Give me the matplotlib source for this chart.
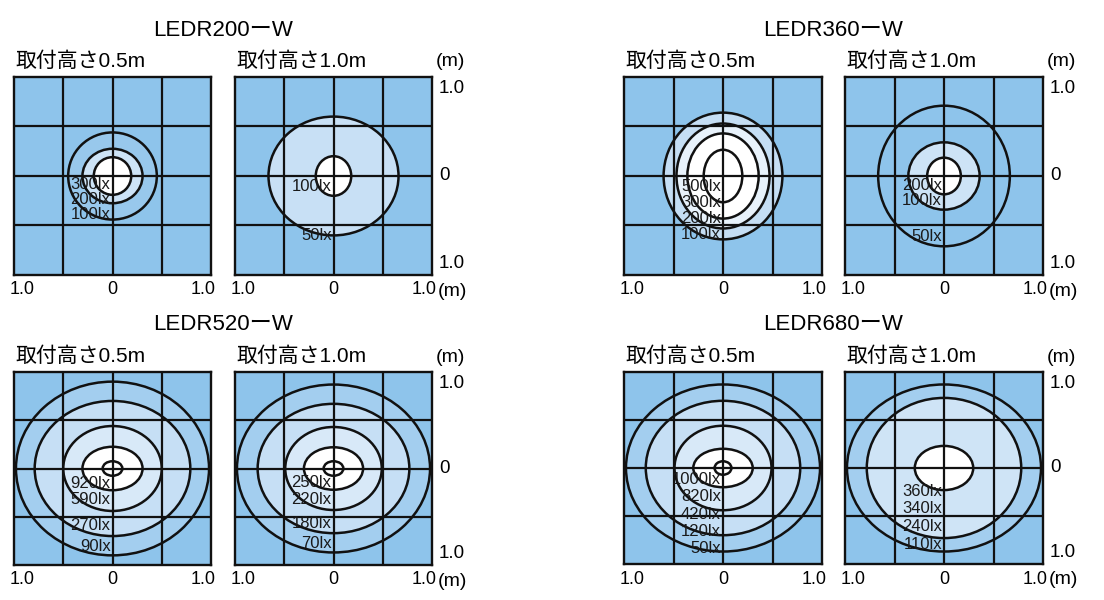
import matplotlib
matplotlib.use('Agg')
import matplotlib.pyplot as plt
from matplotlib.patches import Ellipse
import matplotlib.transforms as mtransforms

plt.rcParams['font.family'] = ['Liberation Sans', 'Noto Sans CJK JP', 'DejaVu Sans']

# ---------------- data ----------------
models = ['LEDR200ーW', 'LEDR360ーW', 'LEDR520ーW', 'LEDR680ーW']
mount_heights = ['取付高さ0.5m', '取付高さ1.0m']
x_tick_labels = ['1.0', '0', '1.0']
x_tick_values = [-1.0, 0.0, 1.0]
y_tick_labels = ['1.0', '0', '1.0']
y_tick_values = [1.0, 0.0, -1.0]
unit_label = '(m)'

# isolux contours: semi-axes (m), outermost -> innermost
led200_h05_rx = [0.45, 0.305, 0.19]
led200_h05_ry = [0.44, 0.275, 0.19]
led200_h05_lux = ['300lx', '200lx', '100lx']

led200_h10_rx = [0.66, 0.18]
led200_h10_ry = [0.60, 0.20]
led200_h10_lux = ['100lx', '50lx']

led360_h05_rx = [0.60, 0.47, 0.36, 0.195]
led360_h05_ry = [0.64, 0.53, 0.43, 0.265]
led360_h05_lux = ['500lx', '300lx', '200lx', '100lx']

led360_h10_rx = [0.665, 0.36, 0.17]
led360_h10_ry = [0.71, 0.34, 0.185]
led360_h10_lux = ['200lx', '100lx', '50lx']

led520_h05_rx = [0.98, 0.79, 0.50, 0.305, 0.10]
led520_h05_ry = [0.90, 0.70, 0.44, 0.225, 0.075]
led520_h05_lux = ['920lx', '590lx', '270lx', '90lx']

led520_h10_rx = [0.98, 0.77, 0.49, 0.30, 0.10]
led520_h10_ry = [0.87, 0.67, 0.43, 0.22, 0.075]
led520_h10_lux = ['250lx', '220lx', '180lx', '70lx']

led680_h05_rx = [0.98, 0.78, 0.49, 0.30, 0.085]
led680_h05_ry = [0.87, 0.70, 0.44, 0.20, 0.07]
led680_h05_lux = ['1000lx', '820lx', '420lx', '120lx', '50lx']

led680_h10_rx = [0.98, 0.78, 0.295]
led680_h10_ry = [0.87, 0.73, 0.23]
led680_h10_lux = ['360lx', '340lx', '240lx', '110lx']

# ---------------- layout / style ----------------
W, H = 1104, 600
BG = '#8ec4eb'
LINE = '#111111'

panels = [
    # model, height, rx, ry, labels, box(px), label y (m), fills
    (0, 0, led200_h05_rx, led200_h05_ry, led200_h05_lux, (14, 77, 211, 275),
     [-0.086, -0.24, -0.385], ['#98c8ec', '#cde3f6', 'white']),
    (0, 1, led200_h10_rx, led200_h10_ry, led200_h10_lux, (235, 77, 432, 275),
     [-0.107, -0.60], ['#c8e0f5', 'white']),
    (1, 0, led360_h05_rx, led360_h05_ry, led360_h05_lux, (624, 77, 822, 275),
     [-0.107, -0.27, -0.43, -0.59], ['#c5def4', '#e8f2fb', 'white', 'white']),
    (1, 1, led360_h10_rx, led360_h10_ry, led360_h10_lux, (845, 77, 1043, 275),
     [-0.10, -0.25, -0.61], [BG, '#cde3f6', 'white']),
    (2, 0, led520_h05_rx, led520_h05_ry, led520_h05_lux, (14, 372, 211, 565),
     [-0.155, -0.325, -0.59, -0.81], ['#a3ceef', '#c6dff5', '#d8e9f8', 'white', 'white']),
    (2, 1, led520_h10_rx, led520_h10_ry, led520_h10_lux, (235, 372, 432, 565),
     [-0.15, -0.32, -0.57, -0.78], ['#a3ceef', '#c6dff5', '#d8e9f8', 'white', 'white']),
    (3, 0, led680_h05_rx, led680_h05_ry, led680_h05_lux, (624, 372, 822, 564),
     [-0.12, -0.30, -0.48, -0.66, -0.84], ['#a3ceef', '#c6dff5', '#d8e9f8', 'white', 'white']),
    (3, 1, led680_h10_rx, led680_h10_ry, led680_h10_lux, (845, 372, 1043, 564),
     [-0.245, -0.42, -0.61, -0.80], ['#a3ceef', '#cfe4f6', 'white']),
]

fig = plt.figure(figsize=(W / 100, H / 100), dpi=100)
fig.patch.set_facecolor('white')


def fx(px):
    return px / W


def fy(py):
    return 1 - py / H


for (mi, hi, rx, ry, lux, box, lab_y, fills) in panels:
    x0, y0, x1, y1 = box
    ax = fig.add_axes([fx(x0), fy(y1), fx(x1 - x0), (y1 - y0) / H])
    ax.set_xlim(-1, 1)
    ax.set_ylim(-1, 1)
    ax.set_facecolor(BG)
    ax.set_xticks([])
    ax.set_yticks([])
    for s in ax.spines.values():
        s.set_linewidth(1.7)
        s.set_color(LINE)
        s.set_zorder(6)

    # filled regions
    for a, b, c in zip(rx, ry, fills):
        ax.add_patch(Ellipse((0, 0), 2 * a, 2 * b, facecolor=c, edgecolor='none', zorder=1))
    # grid
    for g in (-0.5, 0.0, 0.5):
        ax.axvline(g, color=LINE, lw=1.6, zorder=3)
        ax.axhline(g, color=LINE, lw=1.6, zorder=3)
    # contour lines
    for a, b in zip(rx, ry):
        ax.add_patch(Ellipse((0, 0), 2 * a, 2 * b, facecolor='none', edgecolor=LINE,
                             lw=1.8, zorder=4))
    # lux labels
    for t, yy in zip(lux, lab_y):
        ax.text(-0.02, yy, t, ha='right', va='center', fontsize=12, color='#1a1a1a',
                zorder=7)

    # x tick labels below
    tr_x = mtransforms.offset_copy(ax.get_xaxis_transform(), fig=fig, y=-15, units='dots')
    for v, t in zip(x_tick_values, x_tick_labels):
        ax.text(v * 0.92, 0, t, transform=tr_x, ha='center', va='center', fontsize=13,
                clip_on=False)

    # subtitle
    fig.text(fx(x0 + 1), fy(y0 - 16), mount_heights[hi], ha='left', va='center', fontsize=15)

    if hi == 1:
        tr_y = mtransforms.offset_copy(ax.get_yaxis_transform(), fig=fig, x=7, units='dots')
        for v, t in zip(y_tick_values, y_tick_labels):
            ax.text(1, v * 0.88, t, transform=tr_y, ha='left', va='center', fontsize=13.5,
                    clip_on=False)
        fig.text(fx(x1 + 4), fy(y0 - 15), unit_label, ha='left', va='center', fontsize=14)
        fig.text(fx(x1 + 6), fy(y1 + 16), unit_label, ha='left', va='center', fontsize=14)
        # model title centred over the pair
        left_x0 = [p[5][0] for p in panels if p[0] == mi and p[1] == 0][0]
        fig.text(fx((left_x0 + x1) / 2), fy(y0 - 47), models[mi], ha='center', va='center',
                 fontsize=16)

fig.savefig('out.png', dpi=100, facecolor='white')
